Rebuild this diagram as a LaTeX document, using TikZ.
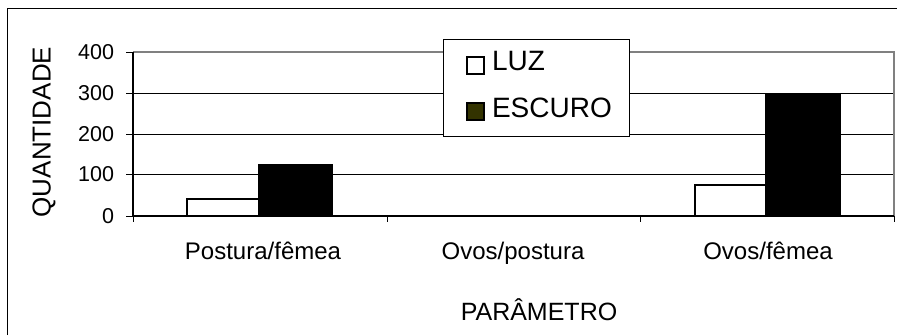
\documentclass[tikz,border=0pt]{standalone}
\usepackage{fontspec}
\setmainfont{Liberation Sans}
\usetikzlibrary{positioning}
\definecolor{escuro}{HTML}{333300}
\definecolor{borda}{HTML}{808080}

\begin{document}
\begin{tikzpicture}[x=1pt,y=-1pt, every node/.style={inner sep=0pt, outer sep=0pt},
	num/.style={anchor=east, font=\fontsize{21.5}{21.5}\selectfont},
	cat/.style={anchor=base, font=\fontsize{24}{24}\selectfont},
	leg/.style={anchor=base west, font=\fontsize{28}{28}\selectfont},
	grade/.style={draw=black, line width=0.9pt},
	luz/.style={draw, fill=white, line width=1.1pt},
	escuro/.style={draw, fill=black, line width=1.1pt}]
	\useasboundingbox (0,0) rectangle (897,335);
	% moldura
	\draw[line width=0.9pt] (7,335) -- (7,8) -- (897,8);
	% eixos
	\coordinate (o) at (133,216);
	\coordinate (topo) at (133,52);
	\coordinate (fim) at (894,216);
	\coordinate (canto) at (894,52);
	\draw[grade] (133,174.5) -- (894,174.5);
	\draw[grade] (133,134.5) -- (894,134.5);
	\draw[grade] (133,93.5) -- (894,93.5);
	\draw[borda, line width=1.2pt] (topo) -- (canto) -- (fim);
	\foreach \y in {52,93.5,134.5,174.5,216} \draw[line width=0.9pt] (126,\y) -- (133,\y);
	\foreach \x in {133,387,640,894} \draw[line width=0.9pt] (\x,216) -- (\x,222);
	\node[num] (n0) at (114,216) {0};
	\node[num] (n100) at (114,174.5) {100};
	\node[num] (n200) at (114,134.5) {200};
	\node[num] (n300) at (114,93.5) {300};
	\node[num] (n400) at (114,52) {400};
	\node[rotate=90, font=\fontsize{26}{26}\selectfont] (quant) at (44,132) {QUANTIDADE};
	% barras
	\draw[luz] (187,216) rectangle (259,199);
	\draw[escuro] (259,216) rectangle (332,165);
	\draw[luz] (695,216) rectangle (766,185);
	\draw[escuro] (766,216) rectangle (840,95);
	\draw[line width=1.2pt] (topo) -- (o) -- (fim);
	\node[cat] (c1) at (263,259) {Postura/fêmea};
	\node[cat] (c2) at (513,259) {Ovos/postura};
	\node[cat] (c3) at (768,259) {Ovos/fêmea};
	\node[anchor=base, font=\fontsize{25}{25}\selectfont] (param) at (539,320) {PARÂMETRO};
	% legenda
	\node[draw, fill=white, line width=0.9pt, minimum width=186pt, minimum height=97pt, anchor=north west] (legenda) at (443,39) {};
	\node[luz, minimum size=17pt, anchor=north west] (qluz) at (467,57) {};
	\node[draw, fill=escuro, line width=1.1pt, minimum size=17pt, anchor=north west] (qescuro) at (467,103) {};
	\node[leg] (tluz) at (492,70) {LUZ};
	\node[leg] (tescuro) at (492,117) {ESCURO};
\end{tikzpicture}
\end{document}
